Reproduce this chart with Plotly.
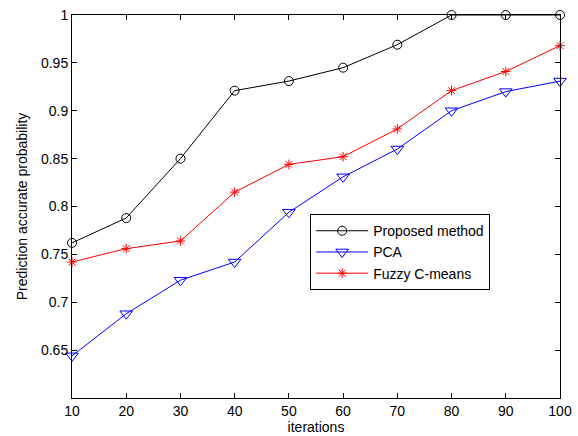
import plotly.graph_objects as go

iterations = [10, 20, 30, 40, 50, 60, 70, 80, 90, 100]
proposed = [0.762, 0.788, 0.850, 0.921, 0.931, 0.945, 0.969, 1.0, 1.0, 1.0]
pca = [0.644, 0.688, 0.723, 0.742, 0.794, 0.831, 0.860, 0.900, 0.920, 0.931]
fuzzy = [0.742, 0.756, 0.764, 0.815, 0.844, 0.852, 0.881, 0.921, 0.941, 0.968]
ytick_vals = [0.65, 0.7, 0.75, 0.8, 0.85, 0.9, 0.95, 1.0]
ytick_text = ["0.65", "0.7", "0.75", "0.8", "0.85", "0.9", "0.95", "1"]

FONT = "Liberation Sans, Arial"

fig = go.Figure()
fig.add_trace(go.Scatter(x=iterations, y=proposed, mode="lines+markers", name="Proposed method",
                         line=dict(color="black", width=1),
                         marker=dict(symbol="circle-open", size=9, color="black", line=dict(width=1)),
                         cliponaxis=False))
fig.add_trace(go.Scatter(x=iterations, y=pca, mode="lines+markers", name="PCA",
                         line=dict(color="blue", width=1),
                         marker=dict(symbol="triangle-down-open", size=11, color="blue", line=dict(width=1)),
                         cliponaxis=False))
fig.add_trace(go.Scatter(x=iterations, y=fuzzy, mode="lines+markers", name="Fuzzy C-means",
                         line=dict(color="red", width=1),
                         marker=dict(symbol="asterisk-open", size=8, color="red", line=dict(width=1, color="red")),
                         cliponaxis=False))

axis_common = dict(showline=True, linecolor="black", linewidth=1, mirror="ticks",
                   ticks="inside", ticklen=5, tickcolor="black", showgrid=False, zeroline=False,
                   automargin=False,
                   tickfont=dict(family=FONT, size=14, color="black"))
fig.update_xaxes(range=[10, 100], tickvals=iterations, **axis_common,
                 title=dict(text="iterations", font=dict(family=FONT, size=14, color="black"), standoff=3))
fig.update_yaxes(range=[0.6, 1.0], tickvals=ytick_vals, ticktext=ytick_text, **axis_common,
                 title=dict(text="Prediction accurate probability", font=dict(family=FONT, size=14, color="black"), standoff=10))

fig.update_layout(width=578, height=436, margin=dict(l=72, r=18, t=15, b=38),
                  paper_bgcolor="white", plot_bgcolor="white",
                  font=dict(family=FONT, size=14, color="black"),
                  legend=dict(x=0.488, y=0.48, xanchor="left", yanchor="top",
                              bgcolor="white", bordercolor="black", borderwidth=1,
                              font=dict(size=14), tracegroupgap=0, itemwidth=52))
fig.write_html("out.html", config={"displayModeBar": False},
               post_script="document.body.style.margin='0';document.body.style.overflow='hidden';")
